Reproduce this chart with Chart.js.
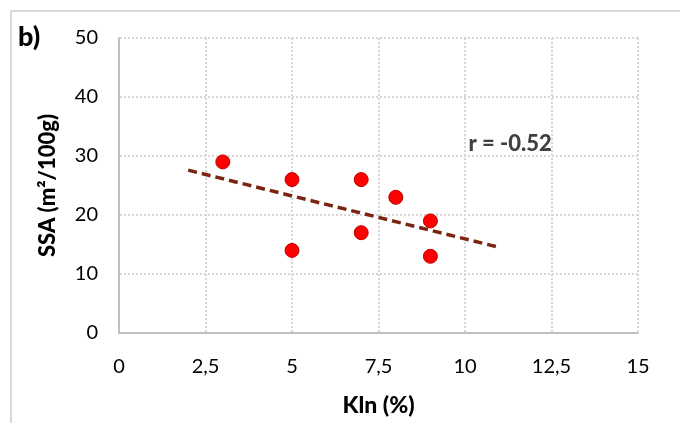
<!DOCTYPE html>
<html>
<head>
<meta charset="utf-8">
<script src="https://cdn.jsdelivr.net/npm/chart.js@4"></script>
<style>
    html, body {margin: 0; padding: 0; background: #fff;}
    #wrap {position: relative; width: 680px; height: 423px;}
    #frame {position: absolute; left: 10px; top: 10px; width: 700px; height: 450px; border: 2px solid #d9d9d9; box-sizing: border-box;}
</style>
</head>
<body>
<div id="wrap">
    <div id="frame"></div>
    <canvas id="chart" width="680" height="423"></canvas>
</div>
<script>
// ====== Data ======
const KLN_VALUES = [3, 5, 5, 7, 7, 8, 9, 9];          // Kln (%)
const SSA_VALUES = [29, 26, 14, 26, 17, 23, 19, 13];  // SSA (m2/100g)
const TREND_X = [2, 11];
const TREND_Y = [27.6, 14.5];
const X_TICKS = [0, 2.5, 5, 7.5, 10, 12.5, 15];
const Y_TICKS = [0, 10, 20, 30, 40, 50];
const PANEL_LABEL = "b)";
const R_LABEL = "r = -0.52";
const R_POS = {x: 10.1, y: 32};

const FONT = "Lato, 'Open Sans', sans-serif";
const GRID = '#d6d6d6';

// ---- extra text: panel label and r annotation ----
const textPlugin = {
    id: 'textPlugin',
    afterDatasetsDraw(chart) {
        const ctx = chart.ctx;
        const xs = chart.scales.x, ys = chart.scales.y;
        ctx.save();
        ctx.fillStyle = '#000';
        ctx.font = `900 27px ${FONT}`;
        ctx.textBaseline = 'middle';
        ctx.textAlign = 'left';
        ctx.fillText(PANEL_LABEL, 18, 37);
        ctx.fillStyle = '#404040';
        ctx.font = `900 22px ${FONT}`;
        ctx.fillText(R_LABEL, xs.getPixelForValue(R_POS.x), ys.getPixelForValue(R_POS.y));
        ctx.restore();
    }
};

const points = KLN_VALUES.map((x, i) => ({x, y: SSA_VALUES[i]}));
const trend = TREND_X.map((x, i) => ({x, y: TREND_Y[i]}));

new Chart(document.getElementById('chart'), {
    type: 'scatter',
    data: {
        datasets: [{
                label: 'SSA',
                data: points,
                backgroundColor: '#ff0000',
                borderColor: '#c00000',
                borderWidth: 1,
                pointRadius: 7,
                order: 1
            }, {
                type: 'line',
                label: 'trend',
                data: trend,
                borderColor: '#7b2510',
                borderWidth: 3.5,
                borderDash: [9, 5],
                pointRadius: 0,
                fill: false,
                order: 2
            }]
    },
    options: {
        responsive: false,
        animation: false,
        layout: {padding: {left: 0, right: 42, top: 38, bottom: 0}},
        plugins: {legend: {display: false}, tooltip: {enabled: false}},
        scales: {
            x: {
                type: 'linear',
                min: 0,
                max: 15,
                afterBuildTicks: s => { s.ticks = X_TICKS.map(v => ({value: v})); },
                afterFit: s => { s.height = 90; },
                ticks: {
                    color: '#000',
                    font: {family: FONT, size: 20},
                    padding: 22,
                    callback: v => String(v).replace('.', ',')
                },
                grid: {color: GRID, lineWidth: 2, drawTicks: false},
                border: {display: true, color: GRID, width: 2, dash: [2, 2]},
                title: {
                    display: true,
                    text: 'Kln (%)',
                    color: '#000',
                    font: {family: FONT, size: 23, weight: '900'},
                    padding: {top: 4, bottom: 4}
                }
            },
            y: {
                min: 0,
                max: 50,
                afterBuildTicks: s => { s.ticks = Y_TICKS.map(v => ({value: v})); },
                afterFit: s => { s.width = 119; },
                ticks: {
                    color: '#000',
                    font: {family: FONT, size: 20},
                    padding: 21
                },
                grid: {color: GRID, lineWidth: 2, drawTicks: false},
                border: {display: true, color: GRID, width: 2, dash: [2, 2]},
                title: {
                    display: true,
                    text: 'SSA (m²/100g)',
                    color: '#000',
                    font: {family: FONT, size: 22, weight: '900'},
                    padding: {top: 35, bottom: 0}
                }
            }
        }
    },
    plugins: [textPlugin, {
        // solid axis lines on left and bottom
        id: 'axisLines',
        beforeDatasetsDraw(chart) {
            const {ctx, chartArea: a} = chart;
            ctx.save();
            ctx.strokeStyle = '#bfbfbf';
            ctx.lineWidth = 2;
            ctx.beginPath();
            ctx.moveTo(a.left, a.top);
            ctx.lineTo(a.left, a.bottom);
            ctx.lineTo(a.right, a.bottom);
            ctx.stroke();
            ctx.restore();
        }
    }]
});
</script>
</body>
</html>
